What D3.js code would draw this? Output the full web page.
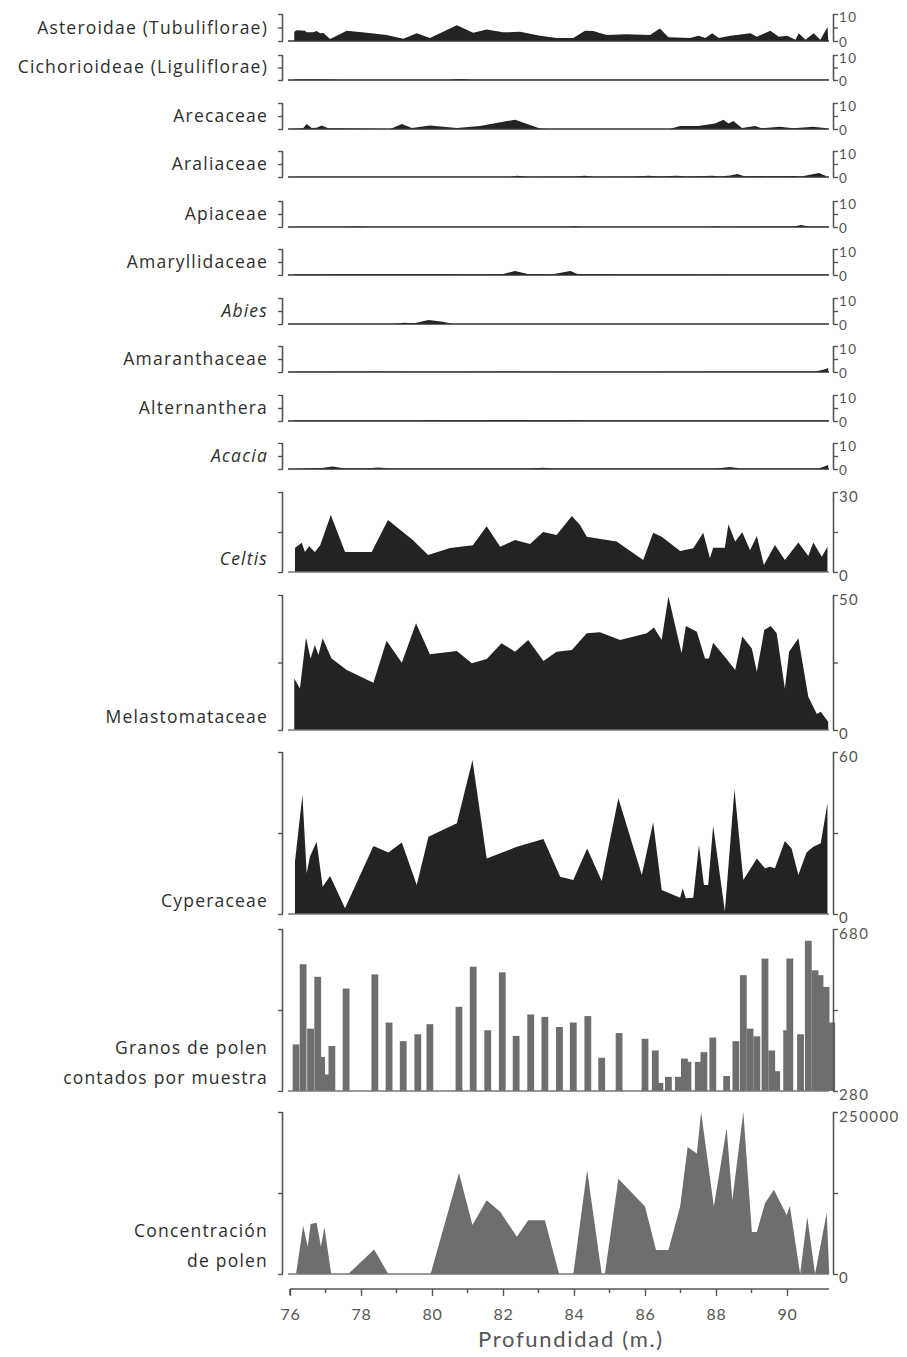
<!DOCTYPE html>
<html>
<head>
<meta charset="utf-8">
<script src="https://cdn.jsdelivr.net/npm/d3@7"></script>
<style>
  html, body { margin: 0; padding: 0; background: #fff; }
  svg { display: block; }
  .lbl { font-family: "Open Sans", Lato, sans-serif; font-size: 17.5px; fill: #2e2e2e; letter-spacing: 1.2px; }
  .tick { font-family: Lato, "Open Sans", sans-serif; font-size: 15px; fill: #555; letter-spacing: 1.4px; }
  .xtick { font-family: Lato, "Open Sans", sans-serif; font-size: 16px; fill: #555; letter-spacing: 0.8px; }
  .xtitle { font-family: Lato, "Open Sans", sans-serif; font-size: 22px; fill: #555; letter-spacing: 1.7px; }
</style>
</head>
<body>
<svg id="chart" width="907" height="1357"></svg>
<script>
// ---- data: [depth (m), value] per taxon ----
const asteroidae = [[76.12,3.4],[76.19,4.0],[76.42,3.8],[76.47,3.2],[76.65,3.2],[76.75,3.7],[76.85,2.9],[76.94,3.0],[77.13,0.7],[77.60,3.8],[78.16,3.1],[78.72,2.2],[79.19,0.8],[79.57,2.9],[79.94,1.1],[80.70,5.8],[81.16,3.1],[81.54,4.3],[82.00,3.2],[82.48,3.4],[83.04,1.9],[83.51,1.1],[83.98,1.1],[84.31,3.8],[84.54,3.7],[84.92,2.2],[85.49,2.5],[86.14,2.2],[86.42,4.6],[86.66,1.4],[87.27,1.1],[87.51,1.9],[87.70,1.1],[87.89,2.9],[88.08,1.1],[88.40,1.9],[88.97,2.9],[89.15,1.6],[89.53,3.8],[89.77,1.6],[90.00,1.9],[90.24,0.5],[90.33,2.9],[90.52,0.5],[90.75,2.9],[90.94,0.5],[91.14,5.2],[91.16,0.7]];
const cichorioideae = [[76.12,0.2],[76.40,0.3],[76.80,0.3],[77.10,0.2],[77.40,0.1],[80.50,0.1],[80.80,0.4],[81.10,0.1],[91.16,0.1]];
const arecaceae = [[76.00,0.0],[76.37,0.3],[76.47,1.9],[76.61,0.4],[76.75,0.5],[76.89,1.3],[77.08,0.3],[78.82,0.0],[79.15,1.9],[79.43,0.4],[79.94,1.3],[80.70,0.4],[81.35,1.2],[82.34,3.6],[83.04,0.2],[83.30,0.0],[86.70,0.0],[86.99,1.2],[87.50,1.2],[87.97,2.1],[88.21,3.6],[88.35,2.1],[88.49,3.1],[88.73,0.4],[89.10,1.2],[89.29,0.3],[89.80,0.9],[90.18,0.3],[90.74,0.9],[91.12,0.3]];
const araliaceae = [[76.12,0.1],[82.20,0.1],[82.40,0.5],[82.70,0.1],[84.00,0.2],[84.30,0.5],[84.60,0.1],[85.70,0.2],[86.10,0.5],[86.40,0.2],[86.90,0.5],[87.20,0.2],[87.90,0.5],[88.10,0.2],[88.40,0.6],[88.60,1.2],[88.80,0.3],[90.20,0.4],[90.40,0.2],[90.90,1.5],[91.10,0.4]];
const apiaceae = [[76.12,0.1],[77.60,0.1],[77.90,0.3],[78.20,0.1],[83.80,0.1],[84.00,0.3],[84.20,0.1],[87.80,0.1],[88.00,0.3],[88.20,0.1],[90.20,0.2],[90.40,0.8],[90.60,0.2],[91.16,0.1]];
const amaryllidaceae = [[76.12,0.3],[79.00,0.4],[81.50,0.3],[82.00,0.4],[82.34,1.5],[82.70,0.4],[83.40,0.3],[83.90,1.5],[84.10,0.4],[85.50,0.3],[87.00,0.3],[88.50,0.2],[91.16,0.2]];
const abies = [[76.12,0.0],[78.90,0.0],[79.20,0.5],[79.50,0.3],[79.90,1.5],[80.30,0.9],[80.60,0.0],[91.16,0.0]];
const amaranthaceae = [[76.12,0.1],[78.50,0.2],[80.00,0.1],[82.00,0.2],[85.00,0.1],[88.00,0.2],[90.80,0.2],[91.05,1.0],[91.16,1.5]];
const alternanthera = [[76.12,0.3],[79.00,0.3],[82.00,0.4],[85.00,0.3],[88.00,0.3],[91.16,0.3]];
const acacia = [[76.12,0.1],[76.90,0.4],[77.20,1.0],[77.50,0.3],[78.20,0.3],[78.50,0.6],[78.80,0.2],[82.80,0.2],[83.10,0.5],[83.40,0.2],[88.00,0.2],[88.40,0.8],[88.70,0.2],[90.90,0.2],[91.16,1.5]];
const celtis = [[76.14,9.0],[76.33,11.0],[76.42,7.5],[76.54,9.7],[76.70,7.5],[76.85,10.0],[77.15,21.4],[77.55,7.5],[78.30,7.5],[78.76,19.5],[79.46,12.0],[79.89,6.4],[80.51,9.0],[81.15,10.0],[81.54,17.2],[81.92,9.5],[82.34,12.0],[82.76,10.5],[83.13,15.0],[83.51,13.9],[83.94,21.0],[84.17,17.6],[84.36,13.2],[85.20,11.4],[85.95,4.5],[86.23,14.7],[86.47,13.2],[86.99,7.9],[87.36,8.9],[87.64,14.7],[87.83,5.2],[87.92,9.1],[88.25,9.1],[88.35,17.9],[88.54,11.4],[88.74,14.9],[88.96,8.2],[89.15,13.5],[89.35,2.6],[89.66,10.1],[89.94,4.5],[90.32,11.1],[90.60,6.0],[90.74,11.1],[90.98,5.7],[91.14,9.5]];
const melastomataceae = [[76.12,19.1],[76.28,15.4],[76.45,34.2],[76.58,26.5],[76.70,31.5],[76.80,27.8],[76.92,34.0],[77.17,26.5],[77.60,22.2],[78.35,17.5],[78.72,33.1],[79.15,24.9],[79.55,39.5],[79.94,28.1],[80.70,29.3],[81.12,24.7],[81.54,26.3],[81.96,32.1],[82.34,29.0],[82.71,33.3],[83.14,25.6],[83.51,29.0],[83.94,29.6],[84.36,35.8],[84.73,36.2],[85.30,33.3],[86.05,35.8],[86.25,38.0],[86.47,33.3],[86.66,49.4],[87.03,28.4],[87.15,38.5],[87.46,36.4],[87.69,26.5],[87.80,26.5],[87.92,32.3],[88.30,26.3],[88.54,22.2],[88.74,34.6],[89.01,30.2],[89.15,21.6],[89.36,37.0],[89.54,38.5],[89.71,35.8],[89.94,15.4],[90.06,29.0],[90.32,34.0],[90.60,12.3],[90.84,5.9],[90.95,6.8],[91.16,3.1]];
const cyperaceae = [[76.14,19.4],[76.35,44.1],[76.47,15.1],[76.56,21.2],[76.75,26.8],[76.92,10.1],[77.13,14.1],[77.55,2.1],[78.35,25.2],[78.77,22.8],[79.15,26.5],[79.57,10.7],[79.90,28.6],[80.70,33.6],[81.14,57.0],[81.54,20.6],[82.39,24.9],[83.14,27.8],[83.61,13.8],[83.98,12.6],[84.37,24.3],[84.78,12.2],[85.25,42.9],[85.91,14.4],[86.23,34.0],[86.47,8.9],[86.99,6.0],[87.06,9.5],[87.15,5.8],[87.36,6.0],[87.52,25.6],[87.66,10.7],[87.78,10.7],[87.92,32.7],[88.25,0.9],[88.52,46.2],[88.77,12.6],[89.15,20.6],[89.38,16.9],[89.52,17.5],[89.66,16.9],[89.94,27.0],[90.13,24.3],[90.32,14.4],[90.55,22.8],[90.74,24.9],[90.95,26.2],[91.14,41.0]];
const granosDepth = [76.17,76.37,76.58,76.78,76.89,77.04,77.18,77.58,78.39,78.79,79.19,79.60,79.94,80.76,81.16,81.57,81.98,82.37,82.78,83.18,83.59,83.98,84.39,84.78,85.27,86.00,86.29,86.42,86.66,86.94,87.11,87.21,87.50,87.66,87.91,88.30,88.56,88.77,88.96,89.15,89.38,89.57,89.71,89.99,90.08,90.38,90.60,90.79,90.93,91.10,91.26];
const granosCount = [395,593,434,562,364,321,391,533,568,449,403,420,445,488,587,430,573,416,469,463,438,449,465,362,423,409,380,300,315,315,360,352,352,376,412,317,403,566,434,415,607,380,329,430,607,420,651,578,566,537,449];
const concentracion = [[76.17,0],[76.37,74000],[76.50,42000],[76.58,77000],[76.75,79000],[76.87,42000],[76.97,72000],[77.16,0],[77.64,0],[78.37,38000],[78.77,0],[79.96,0],[80.76,156000],[81.14,75600],[81.54,114000],[81.92,96000],[82.39,57500],[82.71,83000],[83.18,83000],[83.58,0],[83.98,0],[84.37,160000],[84.78,0],[84.87,0],[85.25,147000],[86.00,104000],[86.31,37000],[86.66,37000],[86.99,104000],[87.20,196000],[87.46,186000],[87.58,250000],[87.94,104000],[88.30,225000],[88.46,114000],[88.77,250000],[89.01,65000],[89.15,65000],[89.38,109000],[89.63,130000],[89.99,91000],[90.08,105000],[90.37,0],[90.57,88000],[90.79,0],[91.12,94500],[91.19,0]];

const xTickMajor = [76, 78, 80, 82, 84, 86, 88, 90];
const xTickMinor = [77, 79, 81, 83, 85, 87, 89];

// ---- panel definitions: name, data, axis maximum, tick labels ----
const panels = [
  { name: "Asteroidae (Tubuliflorae)", data: asteroidae, max: 10, ticks: ["10", "0"] },
  { name: "Cichorioideae (Liguliflorae)", data: cichorioideae, max: 10, ticks: ["10", "0"] },
  { name: "Arecaceae", data: arecaceae, max: 10, ticks: ["10", "0"] },
  { name: "Araliaceae", data: araliaceae, max: 10, ticks: ["10", "0"] },
  { name: "Apiaceae", data: apiaceae, max: 10, ticks: ["10", "0"] },
  { name: "Amaryllidaceae", data: amaryllidaceae, max: 10, ticks: ["10", "0"] },
  { name: "Abies", data: abies, max: 10, ticks: ["10", "0"], italic: true },
  { name: "Amaranthaceae", data: amaranthaceae, max: 10, ticks: ["10", "0"] },
  { name: "Alternanthera", data: alternanthera, max: 10, ticks: ["10", "0"] },
  { name: "Acacia", data: acacia, max: 10, ticks: ["10", "0"], italic: true },
  { name: "Celtis", data: celtis, max: 30, ticks: ["30", "0"], italic: true },
  { name: "Melastomataceae", data: melastomataceae, max: 50, ticks: ["50", "0"] },
  { name: "Cyperaceae", data: cyperaceae, max: 60, ticks: ["60", "0"] },
  { name: ["Granos de polen", "contados por muestra"], bars: true, min: 280, max: 680, ticks: ["680", "280"] },
  { name: ["Concentración", "de polen"], data: concentracion, max: 250000, ticks: ["250000", "0"], grey: true }
];

// ---- layout: top and baseline of each panel (pixels) ----
const layout = [
  [14, 41], [55, 80], [103, 129], [151, 177], [201, 227], [249, 275], [298, 324],
  [346, 372], [395, 421], [443, 469],
  [492, 572], [595, 730], [752, 914], [929, 1091], [1112, 1274]
];

const svg = d3.select("#chart");
const x = d3.scaleLinear().domain([76, 90]).range([290, 787]);
const leftX = 283, rightX = 833, plotRight = 829, labelX = 268;
const dark = "#232323", grey = "#6e6e6e", axisCol = "#555";

panels.forEach((p, i) => {
  const [top, base] = layout[i];
  const lo = p.min || 0;
  const y = d3.scaleLinear().domain([lo, p.max]).range([base, top]);
  const g = svg.append("g");

  if (p.bars) {
    g.selectAll("rect").data(granosDepth).join("rect")
      .attr("x", (d) => x(d) - 3.4)
      .attr("width", 6.8)
      .attr("y", (d, k) => y(granosCount[k]))
      .attr("height", (d, k) => base - y(granosCount[k]))
      .attr("fill", grey);
  } else {
    const area = d3.area()
      .x((d) => x(d[0]))
      .y0(base)
      .y1((d) => y(d[1]));
    g.append("path").datum(p.data).attr("d", area)
      .attr("fill", p.grey ? grey : dark);
  }

  // baseline
  g.append("line").attr("x1", 288).attr("x2", plotRight)
    .attr("y1", base).attr("y2", base)
    .attr("stroke", i < 10 ? "#333" : "#777").attr("stroke-width", 1.6);

  // left bracket axis
  const la = d3.axisLeft(y).tickValues([lo, (lo + p.max) / 2, p.max]).tickSize(5).tickFormat("");
  const lg = g.append("g").attr("transform", `translate(${leftX},0)`).call(la);
  lg.select(".domain").attr("stroke", axisCol).attr("stroke-width", 1.6).attr("d", `M-0.5,${top}V${base}`);
  lg.selectAll(".tick line").attr("stroke", axisCol).attr("stroke-width", 1.4);

  // right axis with labels
  const ra = d3.axisRight(y).tickValues([lo, (lo + p.max) / 2, p.max]).tickSize(5).tickFormat("");
  const rg = g.append("g").attr("transform", `translate(${rightX},0)`).call(ra);
  rg.select(".domain").attr("stroke", axisCol).attr("stroke-width", 1.6).attr("d", `M0.5,${top}V${base}`);
  rg.selectAll(".tick line").attr("stroke", axisCol).attr("stroke-width", 1.4);
  const small = i < 10;
  g.append("text").attr("class", "tick").attr("x", rightX + 6).attr("y", top + (small ? 3 : 4))
    .attr("dominant-baseline", "central")
    .style("font-size", small ? "13.5px" : null)
    .text(p.ticks[0]);
  g.append("text").attr("class", "tick").attr("x", rightX + 6).attr("y", base + (small ? 1 : 3))
    .attr("dominant-baseline", "central")
    .style("font-size", small ? "13.5px" : null)
    .text(p.ticks[1]);

  // taxon label
  const lines = Array.isArray(p.name) ? p.name : [p.name];
  lines.forEach((t, k) => {
    g.append("text").attr("class", "lbl")
      .attr("x", labelX).attr("text-anchor", "end")
      .attr("y", base - 14 - (lines.length - 1 - k) * 30)
      .attr("dominant-baseline", "central")
      .style("font-style", p.italic ? "italic" : "normal")
      .text(t);
  });
});

// x axis
const xAxisY = 1289;
const xa = svg.append("g").attr("transform", `translate(0,${xAxisY})`)
  .call(d3.axisBottom(x).tickValues(xTickMajor).tickSize(7).tickFormat(d3.format("d")));
xa.attr("font-size", null).attr("font-family", null);
xa.select(".domain").attr("stroke", axisCol).attr("stroke-width", 1.6)
  .attr("d", `M${x(76)},0V6M${x(76)},0H${plotRight}`);
xa.selectAll(".tick line").attr("stroke", axisCol).attr("stroke-width", 1.4);
xa.selectAll(".tick text").attr("class", "xtick").attr("y", 24).attr("dy", null)
  .attr("dominant-baseline", "central");
xa.selectAll(".minor").data(xTickMinor).join("line").attr("class", "minor")
  .attr("x1", (d) => x(d)).attr("x2", (d) => x(d)).attr("y1", 0).attr("y2", 4)
  .attr("stroke", axisCol).attr("stroke-width", 1.4);

svg.append("text").attr("class", "xtitle").attr("x", 571).attr("y", 1338)
  .attr("dominant-baseline", "central")
  .attr("text-anchor", "middle").text("Profundidad (m.)");
</script>
</body>
</html>
